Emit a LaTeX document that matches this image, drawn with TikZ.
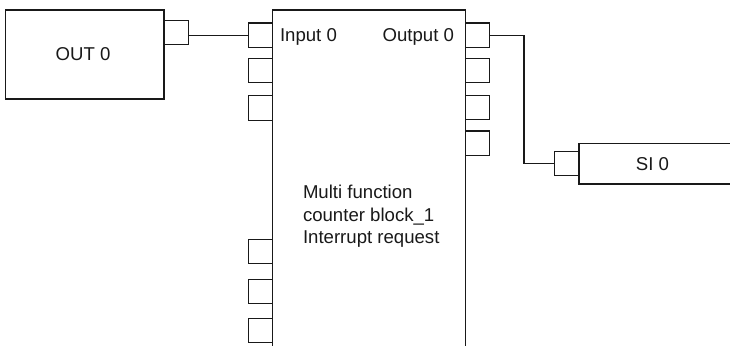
\documentclass[tikz,border=0pt]{standalone}
\usepackage{fontspec}
\setmainfont{Liberation Sans}
\begin{document}
\begin{tikzpicture}[x=1pt,y=-1pt, line width=1.1pt, line join=miter,
  every node/.style={font=\fontsize{18.6}{22.6}\selectfont, inner sep=0pt, outer sep=0pt, text=black!90},
  blockbox/.style={draw=black!90, anchor=north west},
  portbox/.style={draw=black!90, anchor=north west, minimum width=24.4pt, minimum height=24.4pt},
  wire/.style={draw=black!90, line width=1.1pt}]
\useasboundingbox (0,0) rectangle (730,345);
\clip (0,0) rectangle (730,345);
% OUT 0 block
\node[blockbox, minimum width=158.5pt, minimum height=89pt] (outb) at (5.5,10) {};
\node (outlbl) at (83,54.5) {OUT 0};
\node[portbox] (op) at (164,20.3) {};
% main block
\node[blockbox, minimum width=193pt, minimum height=380pt] (mfc) at (272.5,10) {};
\node[anchor=base west] (inlbl) at (280,41.7) {Input 0};
\node[anchor=base east] (outlbl2) at (454,41.7) {Output 0};
\node[anchor=north west, align=left] (mfclbl) at (303,185.2) {Multi function\\counter block\_1\\Interrupt request};
% input ports
\node[portbox] (ip1) at (248.3,23) {};
\node[portbox] (ip2) at (248.3,58.5) {};
\node[portbox] (ip3) at (248.3,95.7) {};
\node[portbox] (ip4) at (248.3,239.3) {};
\node[portbox] (ip5) at (248.3,279.3) {};
\node[portbox] (ip6) at (248.3,318.3) {};
% output ports
\node[portbox] (o1) at (465.5,23) {};
\node[portbox] (o2) at (465.5,58.5) {};
\node[portbox] (o3) at (465.5,95.5) {};
\node[portbox] (o4) at (465.5,131) {};
% SI 0 block
\node[blockbox, minimum width=200pt, minimum height=40.7pt] (sib) at (579,143.3) {};
\node (silbl) at (652.5,163.7) {SI 0};
\node[portbox] (sip) at (554.7,151.3) {};
% connectors
\coordinate (bend) at (524,0);
\draw[wire] (op.east |- ip1.west) -- (ip1.west);
\draw[wire] (o1.east) -| (bend |- sip.west) -- (sip.west);
\end{tikzpicture}
\end{document}
